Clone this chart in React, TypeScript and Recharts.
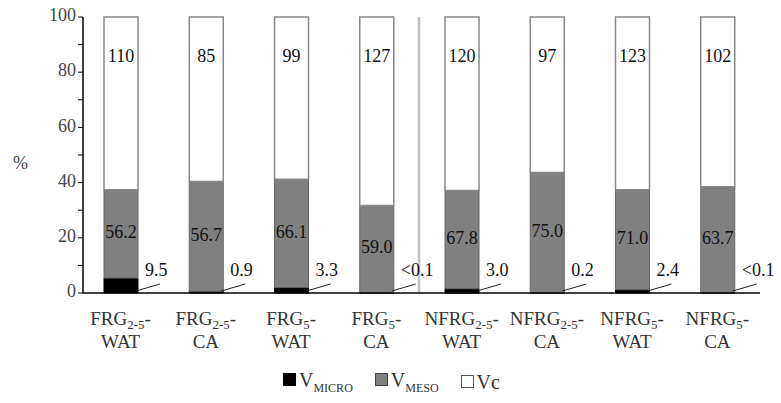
import React from 'react'
import {
  BarChart,
  Bar,
  XAxis,
  YAxis,
  LabelList,
  ReferenceLine,
  Label
} from 'recharts'

// pore volume fractions per aggregate class / treatment
const groups = ['FRG', 'FRG', 'FRG', 'FRG', 'NFRG', 'NFRG', 'NFRG', 'NFRG']
const fractions = ['2-5', '2-5', '5', '5', '2-5', '2-5', '5', '5']
const treatments = ['WAT', 'CA', 'WAT', 'CA', 'WAT', 'CA', 'WAT', 'CA']

const vMicro = [9.5, 0.9, 3.3, 0.05, 3.0, 0.2, 2.4, 0.05]
const vMeso = [56.2, 56.7, 66.1, 59.0, 67.8, 75.0, 71.0, 63.7]
const vC = [110, 85, 99, 127, 120, 97, 123, 102]

const yTicks = [0, 10, 20, 30, 40, 50, 60, 70, 80, 90, 100]

const FONT = '"Liberation Serif", "DejaVu Serif", serif'
const serif = { fontFamily: FONT }

const categories = groups.map((g, i) => `${g}${fractions[i]}-${treatments[i]}`)

const data = categories.map((name, i) => {
  const total = vMicro[i] + vMeso[i] + vC[i]
  return {
    name,
    micro: (vMicro[i] / total) * 100,
    meso: (vMeso[i] / total) * 100,
    vc: (vC[i] / total) * 100,
    microRaw: vMicro[i],
    mesoRaw: vMeso[i],
    vcRaw: vC[i]
  }
})

const fmt = (v: number) => (v < 0.1 ? '<0.1' : v.toFixed(1))

function CategoryTick(props: any) {
  const { x, y, payload } = props
  const i = categories.indexOf(payload.value)
  return (
    <g>
      <text x={x} y={y + 24} textAnchor="middle" fontSize={19} fill="#333" style={serif}>
        <tspan>{groups[i]}</tspan>
        <tspan dy={4} fontSize={13}>{fractions[i]}</tspan>
        <tspan dy={-4}>-</tspan>
      </text>
      <text x={x} y={y + 47} textAnchor="middle" fontSize={19} fill="#333" style={serif}>
        {treatments[i]}
      </text>
    </g>
  )
}

function YTick(props: any) {
  const { x, y, payload } = props
  if (payload.value % 20 !== 0) return null
  return (
    <text x={x} y={y} textAnchor="end" dominantBaseline="middle" fontSize={18} fill="#444" style={serif}>
      {payload.value}
    </text>
  )
}

function MicroLabel(props: any) {
  const { x, y, width, height, value } = props
  const right = x + width
  const base = y + height
  return (
    <g>
      <line x1={right - 2} y1={base - 2} x2={right + 22} y2={base - 9} stroke="#222" strokeWidth={1} />
      <text x={right + 7} y={base - 21} dominantBaseline="middle" fontSize={18} fill="#111" style={serif}>
        {fmt(value)}
      </text>
    </g>
  )
}

function MesoLabel(props: any) {
  const { x, y, width, height, value } = props
  return (
    <text x={x + width / 2} y={y + height / 2} textAnchor="middle" dominantBaseline="middle" fontSize={18} fill="#111" style={serif}>
      {Number(value).toFixed(1)}
    </text>
  )
}

function VcLabel(props: any) {
  const { x, y, width, value } = props
  return (
    <text x={x + width / 2} y={y + 41} textAnchor="middle" dominantBaseline="middle" fontSize={18} fill="#111" style={serif}>
      {value}
    </text>
  )
}

const swatch = (fill: string, border: string) => (
  <span style={{ display: 'inline-block', width: 11, height: 11, background: fill, border: `1px solid ${border}`, marginRight: 3, position: 'relative', top: -1 }} />
)

export default function App() {
  return (
    <div style={{ position: 'absolute', left: 0, top: 0, width: 781, height: 403, background: '#fff', fontFamily: FONT }}>
      <BarChart
        width={781}
        height={403}
        data={data}
        margin={{ top: 17, right: 21, bottom: 50, left: 0 }}
        barSize={34}
        style={serif}
      >
        <XAxis
          dataKey="name"
          interval={0}
          height={60}
          tickLine={false}
          axisLine={{ stroke: '#000', strokeWidth: 1.5 }}
          tick={<CategoryTick />}
          padding={{ left: -5, right: 0 }}
        />
        <YAxis
          width={83}
          domain={[0, 100]}
          ticks={yTicks}
          interval={0}
          tickSize={5}
          tickLine={{ stroke: '#000' }}
          axisLine={{ stroke: '#000', strokeWidth: 1.5 }}
          tick={<YTick />}
        >
          <Label value="%" position="insideLeft" offset={13} dy={8} style={{ fontSize: 18, fill: '#444', fontFamily: FONT }} />
        </YAxis>

        <Bar dataKey="micro" stackId="a" fill="#000" stroke="#000" strokeWidth={1} isAnimationActive={false}>
          <LabelList dataKey="microRaw" content={<MicroLabel />} />
        </Bar>
        <Bar dataKey="meso" stackId="a" fill="#808080" stroke="#666" strokeWidth={1} isAnimationActive={false}>
          <LabelList dataKey="mesoRaw" content={<MesoLabel />} />
        </Bar>
        <Bar dataKey="vc" stackId="a" fill="#fff" stroke="#888" strokeWidth={1.5} isAnimationActive={false}>
          <LabelList dataKey="vcRaw" content={<VcLabel />} />
        </Bar>

        {/* divider between FRG and NFRG groups */}
        <ReferenceLine x={categories[3]} position="end" stroke="#c0c0c0" strokeWidth={2.5} />
      </BarChart>

      <div
        style={{
          position: 'absolute',
          left: 283,
          top: 369,
          display: 'flex',
          gap: 22,
          alignItems: 'center',
          fontSize: 20,
          color: '#333',
          whiteSpace: 'nowrap'
        }}
      >
        <span>
          {swatch('#000', '#000')}V<sub style={{ fontSize: 12 }}>MICRO</sub>
        </span>
        <span>
          {swatch('#808080', '#444')}V<sub style={{ fontSize: 12 }}>MESO</sub>
        </span>
        <span>
          {swatch('#fff', '#555')}Vc
        </span>
      </div>
    </div>
  )
}
